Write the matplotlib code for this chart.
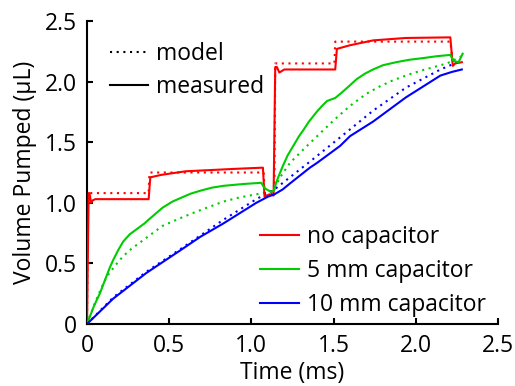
import matplotlib
matplotlib.use("Agg")
import matplotlib.pyplot as plt
from matplotlib.lines import Line2D

plt.rcParams['font.family'] = ['Open Sans', 'DejaVu Sans']

# Time (ms) and pumped volume (uL) for each configuration
t_none_meas = [0, 0.01, 0.015, 0.025, 0.035, 0.05, 0.375, 0.385, 0.45, 0.6, 0.75, 0.9, 1.07,
               1.08, 1.11, 1.135, 1.145, 1.155, 1.17, 1.20, 1.51, 1.52, 1.6, 1.74, 1.94, 2.21,
               2.225, 2.24, 2.28]
v_none_meas = [0, 1.08, 1.08, 1.00, 1.02, 1.03, 1.03, 1.21, 1.23, 1.26, 1.27, 1.28, 1.29,
               1.05, 1.07, 1.06, 2.12, 2.12, 2.075, 2.10, 2.10, 2.27, 2.30, 2.34, 2.36, 2.365,
               2.13, 2.15, 2.16]
t_none_model = [0, 0.005, 0.375, 0.38, 1.075, 1.08, 1.14, 1.145, 1.505, 1.51, 2.21, 2.225, 2.28]
v_none_model = [0, 1.08, 1.08, 1.25, 1.25, 1.08, 1.08, 2.15, 2.15, 2.33, 2.33, 2.16, 2.16]

t_5mm_meas = [0, 0.02, 0.04, 0.06, 0.079, 0.10, 0.12, 0.14, 0.16, 0.19, 0.22, 0.26, 0.30, 0.35,
              0.37, 0.40, 0.46, 0.52, 0.57, 0.63, 0.69, 0.76, 0.83, 0.95, 1.06, 1.08, 1.12,
              1.135, 1.16, 1.19, 1.22, 1.255, 1.29, 1.316, 1.35, 1.397, 1.43, 1.46, 1.49, 1.51,
              1.55, 1.60, 1.64, 1.69, 1.74, 1.80, 1.88, 1.96, 2.05, 2.13, 2.21, 2.23, 2.26, 2.285]
v_5mm_meas = [0, 0.07, 0.14, 0.20, 0.254, 0.33, 0.40, 0.47, 0.53, 0.61, 0.68, 0.74, 0.78, 0.83,
              0.855, 0.89, 0.96, 1.01, 1.04, 1.075, 1.10, 1.125, 1.14, 1.155, 1.165, 1.12, 1.09,
              1.10, 1.20, 1.30, 1.39, 1.47, 1.55, 1.60, 1.67, 1.75, 1.80, 1.84, 1.855, 1.865,
              1.91, 1.97, 2.02, 2.065, 2.10, 2.135, 2.16, 2.18, 2.195, 2.21, 2.22, 2.17, 2.16, 2.23]
t_5mm_model = [0, 0.05, 0.085, 0.12, 0.17, 0.22, 0.27, 0.32, 0.39, 0.46, 0.57, 0.69, 0.83, 0.93,
               1.03, 1.10, 1.13, 1.18, 1.235, 1.316, 1.40, 1.50, 1.60, 1.70, 1.78, 1.86, 1.95,
               2.03, 2.11, 2.19, 2.28]
v_5mm_model = [0, 0.18, 0.29, 0.39, 0.48, 0.56, 0.62, 0.67, 0.74, 0.81, 0.875, 0.94, 1.01, 1.045,
               1.07, 1.09, 1.10, 1.22, 1.33, 1.44, 1.55, 1.68, 1.80, 1.90, 1.96, 2.01, 2.055,
               2.09, 2.12, 2.15, 2.21]

t_10mm_meas = [0, 0.16, 0.36, 0.57, 0.69, 0.83, 1.03, 1.10, 1.14, 1.19, 1.235, 1.356, 1.40, 1.54,
               1.60, 1.74, 1.94, 2.15, 2.22, 2.28]
v_10mm_meas = [0, 0.21, 0.42, 0.61, 0.72, 0.83, 1.00, 1.05, 1.07, 1.11, 1.16, 1.29, 1.33, 1.47,
               1.55, 1.67, 1.87, 2.05, 2.08, 2.10]
t_10mm_model = [0, 0.16, 0.36, 0.57, 0.83, 1.03, 1.14, 1.356, 1.54, 1.74, 1.94, 2.15, 2.27]
v_10mm_model = [0, 0.22, 0.43, 0.62, 0.86, 1.03, 1.11, 1.34, 1.54, 1.76, 1.95, 2.10, 2.17]

series_labels = ["no capacitor", "5 mm capacitor", "10 mm capacitor"]
series_colors = ["#ff0000", "#00cc00", "#0000ff"]

x_ticks = [0, 0.5, 1.0, 1.5, 2.0, 2.5]
x_tick_labels = ["0", "0.5", "1.0", "1.5", "2.0", "2.5"]
y_ticks = [0, 0.5, 1.0, 1.5, 2.0, 2.5]
y_tick_labels = ["0", "0.5", "1.0", "1.5", "2.0", "2.5"]

FS = 16.5
LW = 1.5
DOT = (0, (1, 2.2))

fig = plt.figure(figsize=(5.15, 3.86), dpi=100)
ax = fig.add_axes([87 / 515, 62 / 386, 411 / 515, 303 / 386])

measured = [(t_none_meas, v_none_meas), (t_5mm_meas, v_5mm_meas), (t_10mm_meas, v_10mm_meas)]
model = [(t_none_model, v_none_model), (t_5mm_model, v_5mm_model), (t_10mm_model, v_10mm_model)]

for (tm, vm), (tp, vp), c in zip(measured, model, series_colors):
    ax.plot(tp, vp, color=c, lw=LW, linestyle=DOT, zorder=2)
    ax.plot(tm, vm, color=c, lw=LW, zorder=3)

ax.set_xlim(0, 2.5)
ax.set_ylim(0, 2.5)
ax.set_xticks(x_ticks)
ax.set_xticklabels(x_tick_labels)
ax.set_yticks(y_ticks)
ax.set_yticklabels(y_tick_labels)
ax.tick_params(direction='in', length=4, width=1.5, labelsize=FS, colors='black')
ax.tick_params(axis='x', pad=7)
ax.tick_params(axis='y', pad=7)
for s in ['top', 'right']:
    ax.spines[s].set_visible(False)
for s in ['left', 'bottom']:
    ax.spines[s].set_linewidth(1.5)
    ax.spines[s].set_color('black')

ax.set_xlabel("Time (ms)", fontsize=FS)
ax.set_ylabel("Volume Pumped (\u03bcL)", fontsize=FS)
ax.xaxis.set_label_coords(0.5, -0.122)
ax.yaxis.set_label_coords(-0.122, 0.5)

# Line-style key
style_handles = [Line2D([], [], color='black', lw=LW, linestyle=DOT),
                 Line2D([], [], color='black', lw=LW)]
leg1 = ax.legend(style_handles, ["model", "measured"], loc='upper left',
                 bbox_to_anchor=(110 / 515, 1 - 42 / 386), bbox_transform=fig.transFigure,
                 frameon=False, fontsize=FS, handlelength=1.66, handletextpad=0.35,
                 labelspacing=0.4, borderpad=0, borderaxespad=0)
ax.add_artist(leg1)

# Colour key
color_handles = [Line2D([], [], color=c, lw=LW) for c in series_colors]
ax.legend(color_handles, series_labels, loc='upper left',
          bbox_to_anchor=(260 / 515, 1 - 225 / 386), bbox_transform=fig.transFigure,
          frameon=False, fontsize=FS, handlelength=1.7, handletextpad=0.35,
          labelspacing=0.44, borderpad=0, borderaxespad=0)

fig.savefig("out.png", dpi=100)
